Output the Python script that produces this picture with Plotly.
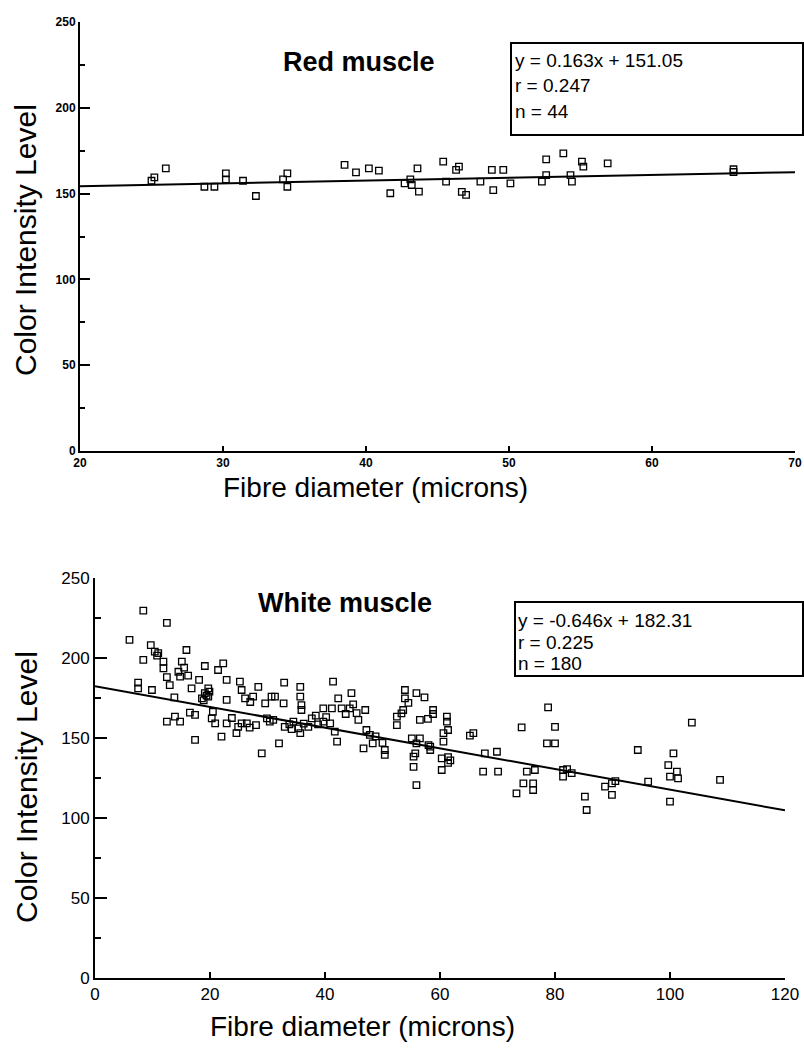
import plotly.graph_objects as go

# ---------------- Red muscle data ----------------
red_x = [25.2, 26.0, 28.7, 29.4, 30.2, 30.2, 31.4, 32.3, 34.5, 34.5,
         38.5, 39.3, 40.2, 40.9, 41.7, 42.7, 43.2, 43.6, 43.7, 45.4,
         46.5, 45.6, 46.7, 47.0, 48.0, 48.8, 48.9, 49.6, 50.1, 52.6,
         52.6, 52.3, 53.8, 55.1, 54.4, 56.9, 65.7, 55.2, 25.0, 34.2,
         43.1, 54.3, 46.3, 65.7]
red_y = [159.5, 164.7, 154.0, 154.0, 161.8, 158.3, 157.5, 148.6, 161.8, 154.0,
         166.7, 162.4, 164.7, 163.4, 150.2, 156.0, 155.0, 164.7, 151.1, 168.6,
         165.7, 157.0, 151.0, 149.2, 157.0, 163.8, 152.0, 163.8, 156.0, 170.0,
         160.8, 157.0, 173.4, 168.6, 157.0, 167.6, 164.2, 165.7, 157.5, 158.3,
         158.3, 160.8, 163.8, 162.6]
red_slope, red_intercept = 0.163, 151.05
red_fit_x = [20, 70]
red_lines = ["y = 0.163x + 151.05", "r = 0.247", "n = 44"]

# ---------------- White muscle data ----------------
white_x = [8.4, 12.5, 6.0, 9.7, 10.4, 11.0, 8.4, 11.9, 11.9, 15.1,
           15.9, 14.5, 14.8, 12.5, 7.5, 7.5, 9.9, 13.0, 16.8, 18.1,
           19.1, 22.3, 21.4, 22.9, 13.8, 19.7, 19.1, 19.7, 18.6, 22.9,
           25.2, 25.5, 28.4, 26.1, 27.5, 29.6, 30.7, 12.5, 13.9, 14.8,
           16.5, 17.4, 17.4, 20.3, 20.9, 22.9, 22.0, 24.9, 25.5, 26.4,
           24.6, 29.0, 29.9, 30.4, 20.5,
           32.9, 31.3, 32.8, 35.7, 35.7, 35.9, 35.9, 31.0, 33.0, 34.5,
           35.4, 35.7, 37.1, 37.7, 32.0, 39.7, 41.2, 42.9, 41.4, 42.3,
           44.6, 44.3, 47.0, 45.8, 39.7, 40.9, 41.7, 42.1, 47.2, 47.8,
           48.3, 46.7, 50.4, 50.4, 53.9, 55.9, 57.3, 53.9, 53.6, 52.5,
           52.5, 56.5, 58.8, 58.8, 55.1, 55.9, 58.0, 58.3, 55.7, 55.4,
           55.9, 60.6, 60.3, 60.6,
           61.2, 61.2, 61.4, 61.4, 61.4, 60.3, 65.8, 69.9, 67.8, 67.5,
           70.1, 74.2, 78.8, 80.0, 78.6, 80.0, 75.1, 76.5, 74.5, 76.2,
           73.3, 76.2, 81.4, 82.9, 81.4, 85.2, 85.5, 88.7, 89.9, 89.9,
           103.8, 94.4, 100.6, 99.7, 101.2, 101.4, 100.0, 96.2, 108.7, 100.0,
           53.3, 56.5, 58.3, 55.4,
           10.8, 15.5, 16.2, 19.4, 19.9, 18.9, 27.0, 23.8, 26.9, 28.0,
           33.8, 34.2, 36.3, 38.4, 38.8, 40.2, 43.6, 44.9, 45.5, 48.8,
           50.0, 54.5, 57.9, 61.8, 65.2, 82.1, 90.5]
white_y = [229.6, 222.0, 211.3, 208.0, 204.0, 203.0, 198.8, 197.7, 193.5, 197.7,
           205.0, 191.4, 188.3, 188.0, 184.6, 181.0, 180.0, 183.0, 181.0, 186.3,
           195.0, 196.7, 192.5, 186.3, 175.4, 181.0, 178.0, 175.8, 174.8, 173.8,
           185.2, 180.0, 182.0, 174.8, 175.8, 171.7, 175.8, 160.2, 163.3, 160.2,
           165.8, 164.4, 148.8, 162.3, 159.2, 159.2, 150.8, 157.0, 159.2, 159.2,
           153.0, 140.4, 162.3, 160.2, 166.4,
           184.6, 175.8, 171.7, 182.0, 175.8, 170.6, 167.5, 161.3, 157.0, 160.2,
           156.0, 153.0, 157.0, 162.3, 146.7, 168.5, 168.5, 168.5, 185.2, 174.8,
           178.0, 168.5, 167.5, 161.3, 160.2, 159.2, 154.0, 147.7, 155.0, 151.9,
           146.7, 143.5, 139.4, 142.5, 180.0, 178.0, 175.4, 174.8, 167.5, 163.3,
           158.1, 161.3, 167.5, 165.0, 149.8, 146.7, 145.6, 142.5, 140.4, 132.0,
           120.6, 153.0, 130.0, 147.7,
           163.3, 160.2, 155.0, 138.0, 134.5, 137.3, 153.0, 141.4, 140.4, 129.0,
           129.0, 156.7, 169.2, 157.0, 146.7, 146.7, 129.0, 130.0, 121.7, 121.7,
           115.4, 117.5, 130.0, 128.0, 125.8, 113.3, 105.0, 119.6, 121.7, 114.4,
           159.6, 142.5, 140.4, 133.1, 129.0, 124.8, 125.8, 122.7, 123.8, 110.2,
           165.4, 149.8, 144.6, 138.3,
           201.5, 194.0, 189.0, 176.5, 179.0, 173.5, 172.5, 162.5, 156.5, 158.0,
           158.5, 155.5, 159.0, 164.0, 158.5, 163.0, 165.0, 171.0, 165.5, 151.0,
           147.0, 172.0, 162.0, 136.0, 151.5, 130.5, 123.0]
white_slope, white_intercept = -0.646, 182.31
white_fit_x = [0, 120]
white_lines = ["y = -0.646x + 182.31", "r = 0.225", "n = 180"]

W, H = 804, 1048
FONT = "Liberation Sans, Arial, sans-serif"


def px(x):
    return x / W


def py(y):
    return 1 - y / H


fig = go.Figure()

marker = dict(symbol="square-open", size=6.5, color="black", line=dict(width=1.3, color="black"))

fig.add_trace(go.Scatter(x=red_x, y=red_y, mode="markers", marker=marker,
                         xaxis="x", yaxis="y", showlegend=False, cliponaxis=False))
fig.add_trace(go.Scatter(x=red_fit_x, y=[red_slope * v + red_intercept for v in red_fit_x],
                         mode="lines", line=dict(color="black", width=2),
                         xaxis="x", yaxis="y", showlegend=False))

fig.add_trace(go.Scatter(x=white_x, y=white_y, mode="markers", marker=marker,
                         xaxis="x2", yaxis="y2", showlegend=False, cliponaxis=False))
fig.add_trace(go.Scatter(x=white_fit_x, y=[white_slope * v + white_intercept for v in white_fit_x],
                         mode="lines", line=dict(color="black", width=2),
                         xaxis="x2", yaxis="y2", showlegend=False))

small_bold = dict(family=FONT, size=12, color="black", weight="bold")
reg_tick = dict(family=FONT, size=17, color="black")

axis_common = dict(showline=True, linecolor="black", linewidth=2, showgrid=False,
                   zeroline=False, ticks="inside", tickcolor="black", tickwidth=1.5,
                   automargin=False)

fig.update_layout(
    template="none",
    width=W, height=H,
    margin=dict(l=0, r=0, t=0, b=0, pad=0),
    paper_bgcolor="white", plot_bgcolor="white",
    xaxis=dict(domain=[px(80), px(795)], range=[20, 70], anchor="y", dtick=10, tick0=20,
               ticklen=5, tickfont=small_bold, **axis_common),
    yaxis=dict(domain=[py(451), py(22)], range=[0, 250], anchor="x", dtick=50, ticklen=10,
               minor=dict(ticks="inside", ticklen=5, dtick=25, tickcolor="black", tickwidth=1.5),
               tickfont=small_bold, **axis_common),
    xaxis2=dict(domain=[px(95), px(785)], range=[0, 120], anchor="y2", dtick=20,
                ticklen=6, tickfont=reg_tick, **axis_common),
    yaxis2=dict(domain=[py(978), py(578)], range=[0, 250], anchor="x2", dtick=50, ticklen=12,
                minor=dict(ticks="inside", ticklen=6, dtick=25, tickcolor="black", tickwidth=1.5),
                tickfont=reg_tick, **axis_common),
)

ann = []


def add_text(x, y, text, font, angle=0, xanchor="center"):
    ann.append(dict(x=px(x), y=py(y), text=text, showarrow=False, xref="paper", yref="paper",
                    xanchor=xanchor, yanchor="middle", textangle=angle, font=font))


# Panel titles
title_bold = dict(family=FONT, size=27, color="black", weight="bold")
add_text(359, 62, "Red muscle", title_bold)
add_text(345, 603, "White muscle", title_bold)

# Axis titles
title_font = dict(family=FONT, size=28, color="black")
ytitle_font = dict(family=FONT, size=30, color="black")
add_text(26, 240, "Color Intensity Level", ytitle_font, angle=-90)
add_text(375, 487, "Fibre diameter (microns)", title_font)
add_text(26, 787, "Color Intensity Level", ytitle_font, angle=-90)
add_text(362, 1026, "Fibre diameter (microns)", title_font)

# Equation boxes
box_font = dict(family=FONT, size=19, color="black")
for lines, x_left, ys in [(red_lines, 513, [60, 85, 111]), (white_lines, 516, [620, 642, 664])]:
    for t, yy in zip(lines, ys):
        add_text(x_left, yy, t, box_font, xanchor="left")

fig.update_layout(annotations=ann)

fig.add_shape(type="rect", xref="paper", yref="paper", x0=px(511), x1=px(803), y0=py(135), y1=py(43),
              line=dict(color="black", width=2))
fig.add_shape(type="rect", xref="paper", yref="paper", x0=px(515), x1=px(803), y0=py(676), y1=py(602),
              line=dict(color="black", width=2))

fig.write_html("out.html",
               config=dict(displayModeBar=False),
               post_script="document.body.style.margin='0';document.body.style.overflow='hidden';")
